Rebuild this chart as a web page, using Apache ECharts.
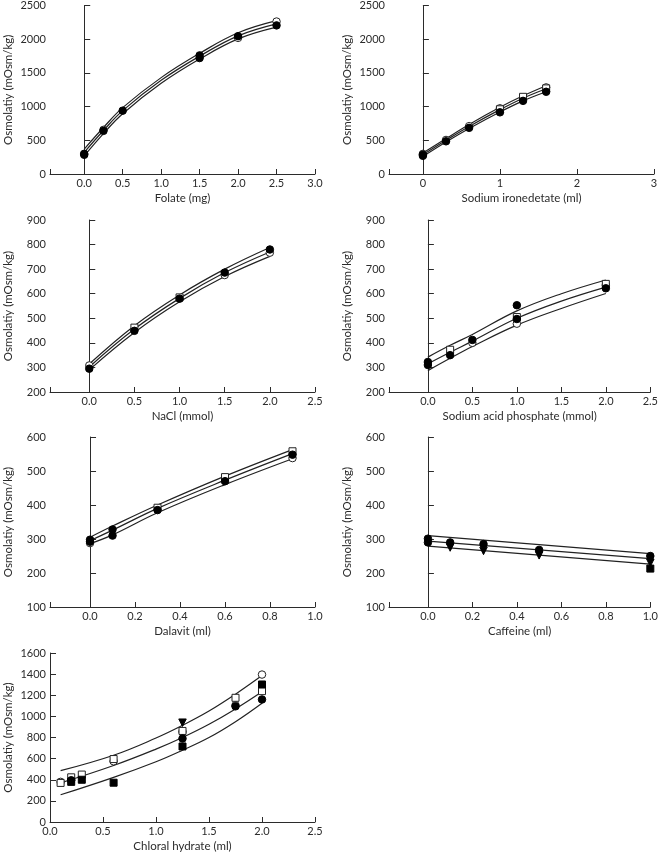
<!DOCTYPE html>
<html>
<head>
<meta charset="utf-8">
<script src="https://cdn.jsdelivr.net/npm/echarts@6/dist/echarts.min.js"></script>
<style>
  html, body { margin: 0; padding: 0; background: #fff; }
  #chart { width: 661px; height: 853px; }
</style>
</head>
<body>
<div id="chart"></div>
<script>
// Y axis title (typo kept as in the figure)
const yTitle = "Osmolatiy (mOsm/kg)";

// ---- Folate ----
const folateFitX = [0, 0.25, 0.5, 1.0, 1.5, 2.0, 2.5];
const folateUpper = [370, 690, 985, 1430, 1790, 2095, 2275];
const folateMid = [320, 645, 940, 1390, 1748, 2050, 2228];
const folateLower = [270, 600, 895, 1345, 1705, 2005, 2180];
const folateFilled = [[0, 285], [0, 300], [0.25, 640], [0.5, 940], [1.5, 1720], [1.5, 1760], [2.0, 2045], [2.5, 2205]];
const folateOpenCircle = [[2.5, 2262], [0.25, 655], [2.0, 2020]];

// ---- Sodium ironedetate ----
const ironFitX = [0, 0.3, 0.6, 1.0, 1.3, 1.6];
const ironUpper = [310, 525, 735, 990, 1160, 1310];
const ironMid = [285, 500, 705, 955, 1125, 1265];
const ironLower = [260, 475, 675, 920, 1085, 1220];
const ironFilled = [[0, 270], [0, 287], [0.3, 485], [0.6, 685], [1.0, 915], [1.3, 1085], [1.6, 1220]];
const ironOpenCircle = [[0, 298], [0.3, 505], [0.6, 710], [1.0, 975], [1.6, 1285]];
const ironOpenSquare = [[1.3, 1145], [1.0, 960], [1.6, 1270]];

// ---- NaCl ----
const naclFitX = [0, 0.5, 1.0, 1.5, 2.0];
const naclUpper = [314, 470, 595, 700, 788];
const naclMid = [302, 456, 581, 686, 770];
const naclLower = [290, 442, 567, 670, 752];
const naclFilled = [[0, 295], [0.5, 449], [1.0, 580], [1.5, 686], [2.0, 780]];
const naclOpenCircle = [[0, 308], [1.5, 676], [2.0, 767]];
const naclOpenSquare = [[0.5, 462], [1.0, 585]];

// ---- Sodium acid phosphate ----
const phosFitX = [0, 0.25, 0.5, 1.0, 1.5, 2.0];
const phosUpper = [342, 390, 434, 530, 600, 656];
const phosMid = [315, 362, 407, 500, 570, 627];
const phosLower = [287, 337, 385, 472, 540, 601];
const phosFilled = [[0, 310], [0, 322], [0.25, 350], [0.5, 412], [1.0, 553], [1.0, 497], [2.0, 622]];
const phosOpenSquare = [[0.25, 372], [1.0, 505], [2.0, 640]];
const phosOpenCircle = [[0.5, 400], [1.0, 478], [2.0, 635]];

// ---- Dalavit ----
const dalaFitX = [0, 0.1, 0.3, 0.6, 0.9];
const dalaUpper = [305, 338, 400, 485, 563];
const dalaMid = [295, 326, 390, 473, 551];
const dalaLower = [286, 312, 377, 460, 536];
const dalaFilled = [[0, 292], [0, 298], [0.1, 328], [0.1, 310], [0.3, 385], [0.6, 470], [0.9, 548]];
const dalaOpenSquare = [[0.3, 392], [0.6, 482], [0.9, 558]];
const dalaOpenCircle = [[0.9, 538], [0, 288]];

// ---- Caffeine ----
const cafFitX = [0, 1.0];
const cafUpper = [310, 257];
const cafMid = [294, 242];
const cafLower = [279, 226];
const cafFilled = [[0, 301], [0, 290], [0.1, 290], [0.25, 285], [0.5, 268], [1.0, 250]];
const cafTriangle = [[0.1, 275], [0.25, 265], [0.5, 252], [1.0, 230]];
const cafFilledSquare = [[1.0, 213]];

// ---- Chloral hydrate ----
const chlFitX = [0.1, 0.6, 1.0, 1.25, 1.5, 1.75, 2.0];
const chlUpper = [486, 632, 795, 915, 1050, 1210, 1386];
const chlMid = [370, 535, 690, 800, 925, 1070, 1232];
const chlLower = [258, 423, 571, 680, 800, 950, 1125];
const chlOpenSquare = [[0.1, 370], [0.2, 423], [0.3, 449], [0.6, 596], [1.25, 862], [1.75, 1176], [2.0, 1239]];
const chlOpenCircle = [[0.1, 380], [0.6, 575], [1.25, 855], [1.75, 1105], [2.0, 1396]];
const chlFilledSquare = [[0.2, 380], [0.3, 400], [0.6, 372], [1.25, 715], [2.0, 1302]];
const chlFilled = [[0.2, 395], [1.25, 790], [1.75, 1095], [2.0, 1160]];
const chlTriangle = [[1.25, 940]];

const ink = "#2b2b2b";
const font = "Lato";

const zip = (xs, ys) => xs.map((x, i) => [x, ys[i]]);

const solid = { color: "#000", borderColor: "#000", borderWidth: 1, opacity: 1 };
const hollow = { color: "#fff", borderColor: "#222", borderWidth: 1, opacity: 1 };
const markStyles = {
  filled: { symbol: "circle", itemStyle: solid },
  openCircle: { symbol: "circle", itemStyle: hollow },
  openSquare: { symbol: "rect", itemStyle: hollow },
  filledSquare: { symbol: "rect", itemStyle: solid },
  triangle: { symbol: "triangle", symbolRotate: 180, itemStyle: solid },
};

const panels = [
  { grid: [50, 5, 265, 169], name: "Folate (mg)", x: [-0.445, 3.0, 7], dec: 1, step: 0.5, y: [0, 2500, 500],
    fitX: folateFitX, curves: [folateUpper, folateMid, folateLower], smooth: true,
    marks: [["openCircle", folateOpenCircle], ["filled", folateFilled]] },
  { grid: [389, 5, 265, 169], name: "Sodium ironedetate (ml)", x: [-0.44, 3.0, 3], dec: 0, step: 1, y: [0, 2500, 500],
    fitX: ironFitX, curves: [ironUpper, ironMid, ironLower], smooth: true,
    marks: [["openCircle", ironOpenCircle], ["openSquare", ironOpenSquare], ["filled", ironFilled]] },
  { grid: [50, 220, 265, 172], name: "NaCl (mmol)", x: [-0.435, 2.5, 6], dec: 1, step: 0.5, y: [200, 900, 100],
    fitX: naclFitX, curves: [naclUpper, naclMid, naclLower], smooth: true,
    marks: [["openCircle", naclOpenCircle], ["openSquare", naclOpenSquare], ["filled", naclFilled]] },
  { grid: [389, 220, 265, 172], name: "Sodium acid phosphate (mmol)", x: [-0.437, 2.5, 6], dec: 1, step: 0.5, y: [200, 900, 100],
    fitX: phosFitX, curves: [phosUpper, phosMid, phosLower], smooth: true,
    marks: [["openCircle", phosOpenCircle], ["openSquare", phosOpenSquare], ["filled", phosFilled]] },
  { grid: [50, 437, 265, 170], name: "Dalavit (ml)", x: [-0.178, 1.0, 6], dec: 1, step: 0.2, y: [100, 600, 100],
    fitX: dalaFitX, curves: [dalaUpper, dalaMid, dalaLower], smooth: true,
    marks: [["openCircle", dalaOpenCircle], ["openSquare", dalaOpenSquare], ["filled", dalaFilled]] },
  { grid: [389, 437, 265, 170], name: "Caffeine (ml)", x: [-0.175, 1.0, 6], dec: 1, step: 0.2, y: [100, 600, 100],
    fitX: cafFitX, curves: [cafUpper, cafMid, cafLower], smooth: false,
    marks: [["filled", cafFilled], ["triangle", cafTriangle], ["filledSquare", cafFilledSquare]] },
  { grid: [50, 653, 265, 170], name: "Chloral hydrate (ml)", x: [0, 2.5, 5], dec: 1, step: 0.5, y: [0, 1600, 200],
    fitX: chlFitX, curves: [chlUpper, chlMid, chlLower], smooth: true,
    marks: [["openCircle", chlOpenCircle], ["openSquare", chlOpenSquare], ["filledSquare", chlFilledSquare],
            ["filled", chlFilled], ["triangle", chlTriangle]] },
];

const textStyle = { color: ink, fontFamily: font, fontSize: 11 };
const grids = [], xAxes = [], yAxes = [], series = [];

panels.forEach((p, i) => {
  grids.push({ left: p.grid[0], top: p.grid[1], width: p.grid[2], height: p.grid[3] });
  xAxes.push({
    gridIndex: i, type: "value", min: p.x[0], max: p.x[1], splitNumber: p.x[2],
    interval: p.x[0] === 0 ? p.step : undefined,
    name: p.name, nameLocation: "middle", nameGap: 18, nameTextStyle: { ...textStyle, fontSize: 11.5 },
    axisLine: { lineStyle: { color: ink, width: 1 } },
    axisTick: { inside: true, length: 5, lineStyle: { color: ink } },
    axisLabel: {
      ...textStyle, margin: 4,
      formatter: v => {
        const k = v / p.step;
        if (Math.abs(k - Math.round(k)) > 1e-6 || v < -1e-9) return "";
        return v.toFixed(p.dec);
      },
    },
    splitLine: { show: false },
  });
  yAxes.push({
    gridIndex: i, type: "value", min: p.y[0], max: p.y[1], interval: p.y[2],
    name: yTitle, nameLocation: "middle", nameGap: 36, nameRotate: 90, nameTextStyle: { ...textStyle, fontSize: 11.5 },
    axisLine: { show: true, lineStyle: { color: ink, width: 1 } },
    axisTick: { show: true, inside: true, length: 6, lineStyle: { color: ink } },
    axisLabel: { ...textStyle, margin: 4, formatter: v => String(v) },
    splitLine: { show: false },
  });
  p.curves.forEach(c => {
    series.push({
      type: "line", xAxisIndex: i, yAxisIndex: i, data: zip(p.fitX, c),
      smooth: p.smooth ? 0.4 : false, symbol: "none", silent: true,
      lineStyle: { color: "#222", width: 1.2 },
    });
  });
  p.marks.forEach(([kind, pts]) => {
    series.push({
      type: "scatter", xAxisIndex: i, yAxisIndex: i, data: pts,
      symbolSize: kind.indexOf("Square") > 0 ? 7 : 7.5, ...markStyles[kind], z: 5,
    });
  });
});

const chart = echarts.init(document.getElementById("chart"), null, { renderer: "canvas" });
chart.setOption({
  animation: false,
  backgroundColor: "#fff",
  textStyle: { fontFamily: font },
  grid: grids,
  xAxis: xAxes,
  yAxis: yAxes,
  series: series,
});
</script>
</body>
</html>
